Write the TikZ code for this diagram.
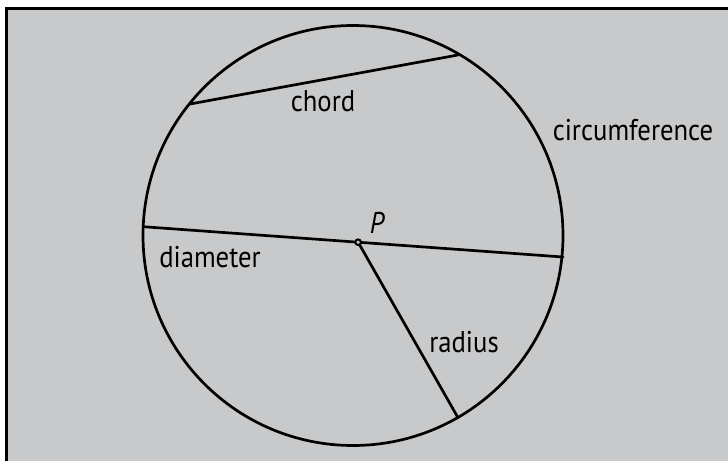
\documentclass[tikz,border=0pt]{standalone}
\usepackage{fontspec}
\setmainfont{PT Sans}
\usetikzlibrary{calc}
\definecolor{bggray}{RGB}{200,201,203}
\newcommand{\narrowtxt}[1]{\scalebox{0.89}[1]{#1}}
\begin{document}
\begin{tikzpicture}[x=1pt,y=-1pt,
  edge/.style={line width=2.7pt, line cap=round},
  lbl/.style={anchor=base, inner sep=0pt, font=\fontsize{30}{33}\selectfont}]
\useasboundingbox (0,0) rectangle (728,461);
\fill[white] (0,0) rectangle (728,461);
\fill[bggray] (6,8) rectangle (728,461);
\draw[line width=2.6pt] (728,8.5) -- (6.2,8.5) -- (6.2,461);
\coordinate (C) at (353,235.5);
\draw[line width=2.7pt] (C) circle[radius=210];
\coordinate (d1) at (143.2,226.7);
\coordinate (d2) at (563,257);
\coordinate (c1) at (190,104);
\coordinate (c2) at (458,55);
\coordinate (r2) at (458,417.7);
\coordinate (P) at ($(d1)!0.512!(d2)$);
\draw[edge] (c1) -- (c2);
\draw[edge] (d1) -- (d2);
\draw[edge] (P) -- (r2);
\draw[line width=2pt, fill=bggray] (P) circle[radius=2.8];
\node[lbl] (chord) at (323,111) {\narrowtxt{chord}};
\node[lbl] (circ) at (633,140) {\narrowtxt{circumference}};
\node[lbl] (diam) at (210,267) {\narrowtxt{diameter}};
\node[lbl] (rad) at (464,352) {\narrowtxt{radius}};
\node[lbl] (plab) at (377,233.3) {\narrowtxt{\itshape P}};
\end{tikzpicture}
\end{document}
